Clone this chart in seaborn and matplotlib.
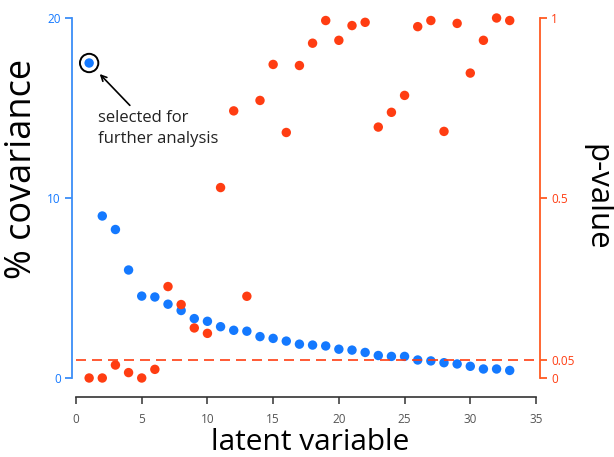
import matplotlib
matplotlib.use("Agg")
import matplotlib.pyplot as plt
import seaborn as sns
import pandas as pd

# ---- data ----
latent = list(range(1, 34))
covariance = [17.5, 9.0, 8.25, 6.0, 4.55, 4.5, 4.1, 3.75, 3.3, 3.15,
              2.85, 2.65, 2.6, 2.3, 2.2, 2.05, 1.88, 1.83, 1.78, 1.6,
              1.55, 1.42, 1.25, 1.2, 1.2, 1.0, 0.95, 0.85, 0.78, 0.65,
              0.5, 0.5, 0.42]
pvalue = [0.0, 0.0, 0.036, 0.015, 0.0, 0.024, 0.254, 0.204, 0.139, 0.124,
          0.529, 0.742, 0.227, 0.771, 0.871, 0.682, 0.868, 0.93, 0.993, 0.938,
          0.979, 0.988, 0.697, 0.738, 0.785, 0.976, 0.993, 0.685, 0.985, 0.847,
          0.938, 1.0, 0.993]
alpha_level = 0.05
selected = 1
xticks = [0, 5, 10, 15, 20, 25, 30, 35]
left_ticks = [0, 10, 20]
right_ticks = [0, 0.05, 0.5, 1]
right_ticklabels = ["0", "0.05", "0.5", "1"]

df = pd.DataFrame({"latent": latent, "cov": covariance, "p": pvalue})

BLUE = "#1479ff"
BLUE_AX = "#3b8ef7"
RED = "#ff3d12"
RED_AX = "#ff5a22"

sns.set_style("white")
plt.rcParams["font.family"] = ["Open Sans", "DejaVu Sans"]

W, H = 614, 457
fig = plt.figure(figsize=(W / 100, H / 100), dpi=100)
ax = fig.add_axes([76 / W, 79 / H, 460 / W, 360 / H])
ax2 = ax.twinx()

sns.scatterplot(data=df, x="latent", y="cov", ax=ax, color=BLUE, s=46,
                edgecolor="none", clip_on=False, zorder=3)
sns.scatterplot(data=df, x="latent", y="p", ax=ax2, color=RED, s=46,
                edgecolor="none", clip_on=False, zorder=3)

ax2.hlines(alpha_level, xmin=xticks[0], xmax=xticks[-1], colors=RED,
           linestyles=(0, (6, 3.6)), linewidth=1.2, zorder=1)

# selected ring
sel = df[df["latent"] == selected]
ax.scatter(sel["latent"], sel["cov"], s=175, facecolors="none",
           edgecolors="black", linewidths=1.4, clip_on=False, zorder=4)
sx, sy = float(sel["latent"].iloc[0]), float(sel["cov"].iloc[0])
ax.annotate("", xy=(sx, sy), xytext=(29.3, -30.5), textcoords="offset points",
            arrowprops=dict(arrowstyle="->", color="black", lw=1.2,
                            shrinkA=0, shrinkB=11, mutation_scale=10))
ax.annotate("selected for\nfurther analysis", xy=(sx, sy), xytext=(6.5, -34),
            textcoords="offset points", ha="left", va="top", fontsize=12,
            color="#222222", linespacing=1.4)

ax.set_xlim(xticks[0], xticks[-1])
ax.set_ylim(0, 20)
ax2.set_ylim(0, 1)
ax.set_xticks(xticks)
ax.set_yticks(left_ticks)
ax2.set_yticks(right_ticks)
ax2.set_yticklabels(right_ticklabels)
ax.set_xlabel("")
ax.set_ylabel("")
ax2.set_ylabel("")

for a in (ax, ax2):
    a.spines["top"].set_visible(False)
ax.spines["right"].set_visible(False)
ax2.spines["left"].set_visible(False)
ax2.spines["bottom"].set_visible(False)

ax.spines["left"].set_position(("outward", 3))
ax.spines["left"].set_bounds(0, 20)
ax.spines["left"].set_color(BLUE_AX)
ax.spines["left"].set_linewidth(1.3)
ax.spines["bottom"].set_position(("outward", 14))
ax.spines["bottom"].set_bounds(0, 35)
ax.spines["bottom"].set_color("#333333")
ax.spines["bottom"].set_linewidth(1.2)
ax2.spines["right"].set_position(("outward", 3))
ax2.spines["right"].set_bounds(0, 1)
ax2.spines["right"].set_color(RED_AX)
ax2.spines["right"].set_linewidth(1.3)

ax.tick_params(axis="x", colors="#333333", labelcolor="#555555", length=5,
               width=1.1, labelsize=8.5, pad=6, direction="out", bottom=True)
ax.tick_params(axis="y", colors=BLUE_AX, labelcolor=BLUE, length=5,
               width=1.3, labelsize=8.5, pad=3, direction="out", left=True)
ax2.tick_params(axis="y", colors=RED_AX, labelcolor=RED, length=5,
                width=1.3, labelsize=8.5, pad=3, direction="out", right=True)

fig.text(22 / W, 1 - 169 / H, "% covariance", rotation=90, ha="center",
         va="center", fontsize=26, color="black")
fig.text(310 / W, 1 - 442 / H, "latent variable", ha="center", va="center",
         fontsize=21.5, color="black")
fig.text(596 / W, 1 - 197 / H, "p-value", rotation=270, ha="center",
         va="center", fontsize=22.5, color="black")

fig.savefig("out.png", dpi=100)
